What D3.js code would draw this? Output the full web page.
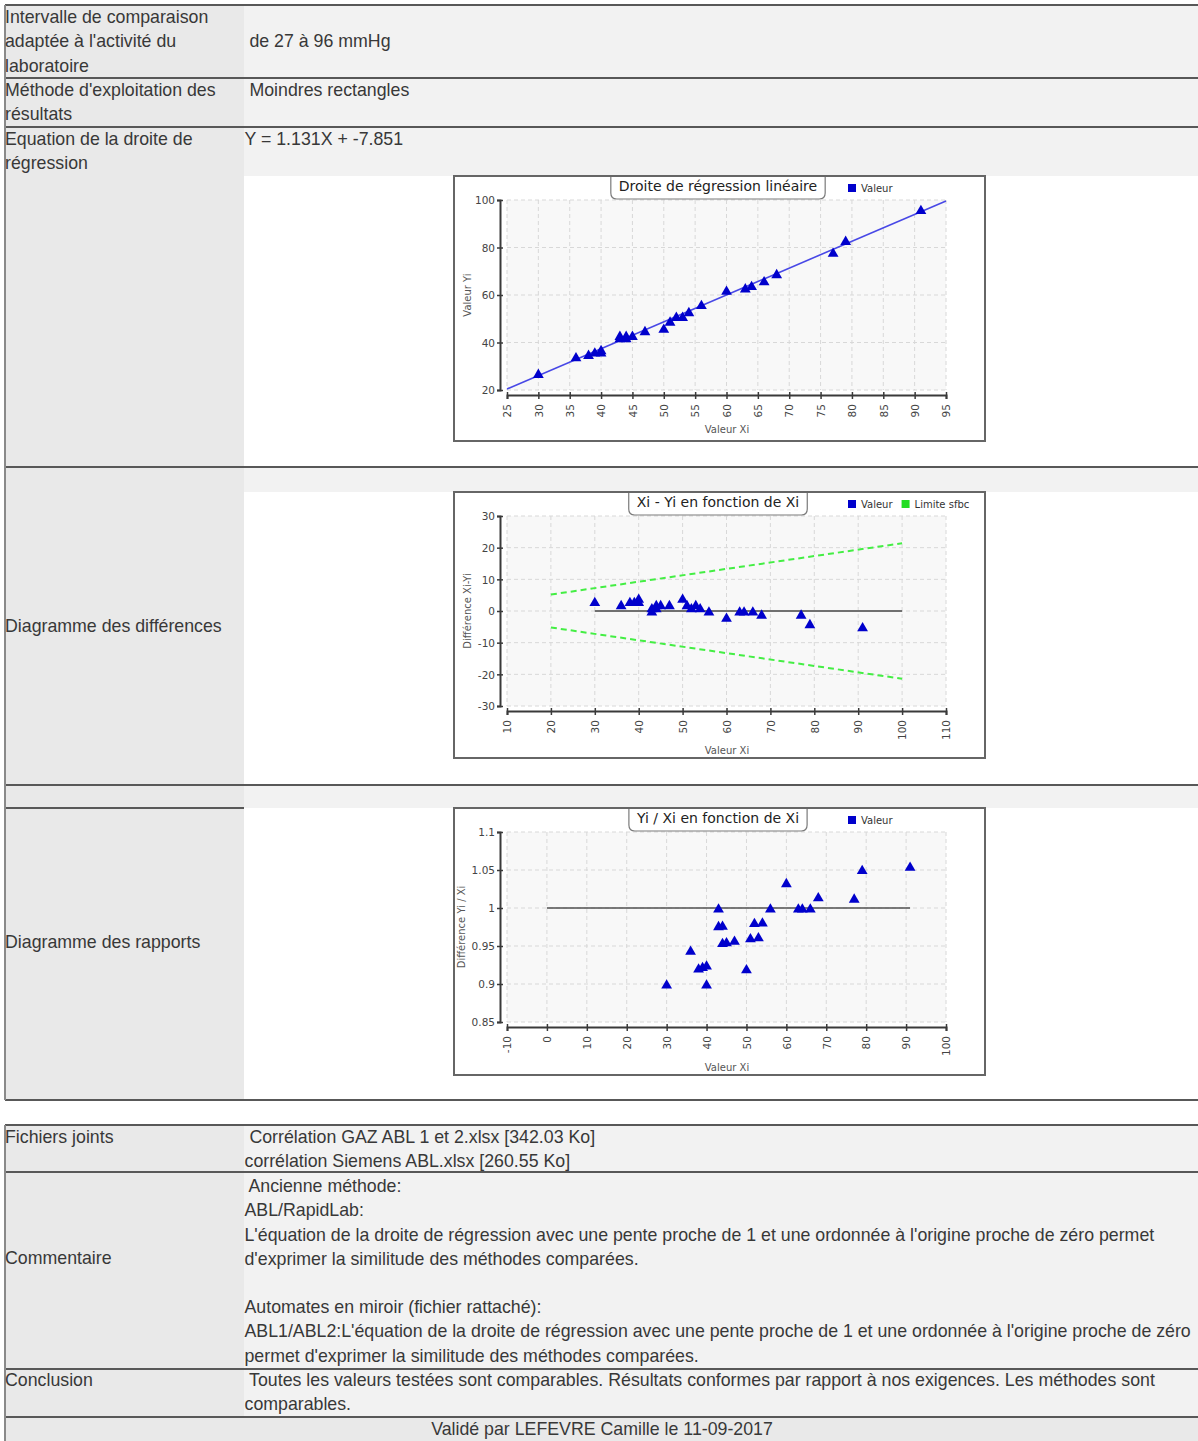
<!DOCTYPE html>
<html>
<head>
<meta charset="utf-8">
<script src="https://cdn.jsdelivr.net/npm/d3@7"></script>
<style>
  html, body { margin: 0; padding: 0; background: #fff; }
  svg { display: block; }
  text { white-space: pre; }
</style>
</head>
<body>
<svg id="page" width="1198" height="1441"></svg>
<script>
// Paired measurements (mmHg): Xi = reference analyser, Yi = compared analyser
const xi = [30, 36, 38, 39, 40, 40, 43, 43, 44, 44, 45, 47, 50, 51, 52, 53, 54, 56, 60, 63, 64, 66, 68, 77, 79, 91];
const yi = [27, 34, 35, 36, 37, 36, 43, 42, 43, 42, 43, 45, 46, 49, 51, 51, 53, 56, 62, 63, 64, 66, 69, 78, 83, 96];

// Regression line (least rectangles)
const slope = 1.131;
const intercept = -7.851;

// SFBC acceptance limits on Xi - Yi
const limitX = [20, 100];
const limitUpper = [5.2, 21.4];
const limitLower = [-5.2, -21.4];

// Reference lines
const zeroLineX = [30, 100];
const unityLineX = [0, 91];

// Axis ticks
const regXTicks = [25, 30, 35, 40, 45, 50, 55, 60, 65, 70, 75, 80, 85, 90, 95];
const regYTicks = [20, 40, 60, 80, 100];
const diffXTicks = [10, 20, 30, 40, 50, 60, 70, 80, 90, 100, 110];
const diffYTicks = [-30, -20, -10, 0, 10, 20, 30];
const ratioXTicks = [-10, 0, 10, 20, 30, 40, 50, 60, 70, 80, 90, 100];
const ratioYTicks = [0.85, 0.9, 0.95, 1, 1.05, 1.1];
const ratioYLabels = ["0.85", "0.9", "0.95", "1", "1.05", "1.1"];

// Report table texts
const leftCells = [
  ["Intervalle de comparaison", "adaptée à l'activité du", "laboratoire"],
  ["Méthode d'exploitation des", "résultats"],
  ["Equation de la droite de", "régression"],
  ["Diagramme des différences"],
  ["Diagramme des rapports"],
  ["Fichiers joints"],
  ["Commentaire"],
  ["Conclusion"]
];
const rightCells = [
  [" de 27 à 96 mmHg"],
  [" Moindres rectangles"],
  [`Y = ${slope}X + ${intercept}`],
  [" Corrélation GAZ ABL 1 et 2.xlsx [342.03 Ko]", "corrélation Siemens ABL.xlsx [260.55 Ko]"],
  [" Ancienne méthode:", "ABL/RapidLab:",
   "L'équation de la droite de régression avec une pente proche de 1 et une ordonnée à l'origine proche de zéro permet",
   "d'exprimer la similitude des méthodes comparées.", "",
   "Automates en miroir (fichier rattaché):",
   "ABL1/ABL2:L'équation de la droite de régression avec une pente proche de 1 et une ordonnée à l'origine proche de zéro",
   "permet d'exprimer la similitude des méthodes comparées."],
  [" Toutes les valeurs testées sont comparables. Résultats conformes par rapport à nos exigences. Les méthodes sont",
   "comparables."]
];
const footerText = "Validé par LEFEVRE Camille le 11-09-2017";

// ---------- layout ----------
const svg = d3.select("#page");
const W = 1198;
const colX = 244;
const tableFont = "'Liberation Sans', Arial, Helvetica, sans-serif";
const chartFont = "'DejaVu Sans', Verdana, sans-serif";
const leftColor = "#e9e9e9", rightColor = "#f2f2f2";
const lineStep = 24.2;

// backgrounds of the first table
svg.append("rect").attr("x", 5).attr("y", 5).attr("width", colX - 5).attr("height", 1095).attr("fill", leftColor);
svg.append("rect").attr("x", colX).attr("y", 5).attr("width", W - colX).attr("height", 1095).attr("fill", rightColor);
[[176, 467], [492, 785], [808, 1100]].forEach(([a, b]) => {
  svg.append("rect").attr("x", colX).attr("y", a).attr("width", W - colX).attr("height", b - a).attr("fill", "#fff");
});
// second table
svg.append("rect").attr("x", 5).attr("y", 1125).attr("width", colX - 5).attr("height", 292).attr("fill", leftColor);
svg.append("rect").attr("x", colX).attr("y", 1125).attr("width", W - colX).attr("height", 292).attr("fill", rightColor);
svg.append("rect").attr("x", 5).attr("y", 1417).attr("width", W - 5).attr("height", 24).attr("fill", "#e9e9e9");

// row separators
const hLines = [[5, W, 5], [5, W, 78], [5, W, 127], [5, W, 467], [5, W, 785], [5, colX, 808], [5, W, 1100],
                [5, W, 1125], [5, W, 1172], [5, W, 1369], [5, W, 1417]];
hLines.forEach(([a, b, y]) => {
  svg.append("line").attr("x1", a).attr("x2", b).attr("y1", y).attr("y2", y)
    .attr("stroke", "#585858").attr("stroke-width", 2);
});
[[5, 1100], [1125, 1441]].forEach(([a, b]) => {
  svg.append("line").attr("x1", 5).attr("x2", 5).attr("y1", a).attr("y2", b)
    .attr("stroke", "#8a8a8a").attr("stroke-width", 2);
});

function textBlock(lines, x, yFirst, anchor) {
  lines.forEach((s, i) => {
    svg.append("text").attr("x", x).attr("y", yFirst + i * lineStep).attr("dy", "0.35em")
      .attr("font-family", tableFont).attr("font-size", 17.75).attr("fill", "#383838")
      .attr("text-anchor", anchor || "start").text(s);
  });
}
const leftY = [17, 90, 139, 626, 942, 1137, 1258, 1380];
leftCells.forEach((c, i) => textBlock(c, 5, leftY[i]));
const rightY = [41, 90, 139, 1137, 1186, 1380];
rightCells.forEach((c, i) => textBlock(c, colX + 0.5, rightY[i]));
textBlock([footerText], 602, 1429, "middle");

// ---------- charts ----------
const blue = "#0000cc";
const tri = "M0,-4.8L5.4,4.5L-5.4,4.5Z";

function drawChart(cfg) {
  const y0 = cfg.top;
  const g = svg.append("g");
  const x = d3.scaleLinear().domain(cfg.xDomain).range([507, 946]);
  const y = d3.scaleLinear().domain(cfg.yDomain).range([y0 + 214, y0 + 24]);

  g.append("rect").attr("x", 454).attr("y", y0).attr("width", 531).attr("height", cfg.h).attr("fill", "#fff");
  g.append("rect").attr("x", 507).attr("y", y0 + 24).attr("width", 439).attr("height", 190).attr("fill", "#f8f8f8");

  // dashed grid
  g.selectAll(null).data(cfg.xTicks).join("line")
    .attr("x1", d => x(d)).attr("x2", d => x(d)).attr("y1", y0 + 24).attr("y2", y0 + 214)
    .attr("stroke", "#d8d8d8").attr("stroke-dasharray", "4,3");
  g.selectAll(null).data(cfg.yTicks).join("line")
    .attr("x1", 507).attr("x2", 946).attr("y1", d => y(d)).attr("y2", d => y(d))
    .attr("stroke", "#d8d8d8").attr("stroke-dasharray", "4,3");

  // axes (plain hyphen for negative labels)
  const xa = g.append("g").attr("transform", `translate(0,${y0 + 219})`)
    .call(d3.axisBottom(x).tickValues(cfg.xTicks).tickSizeOuter(0).tickSize(4).tickFormat(d => String(d)));
  xa.select(".domain").attr("stroke", "#3a3a3a").attr("stroke-width", 2);
  xa.selectAll(".tick line").attr("y1", -3).attr("y2", 4).attr("stroke", "#3a3a3a").attr("stroke-width", 1.5);
  xa.selectAll(".tick text").attr("transform", "rotate(-90)").attr("text-anchor", "end")
    .attr("x", -9).attr("y", 0).attr("dy", "0.36em")
    .attr("font-family", chartFont).attr("font-size", 10.5).attr("fill", "#444");

  const ya = g.append("g").attr("transform", "translate(500,0)")
    .call(d3.axisLeft(y).tickValues(cfg.yTicks).tickSizeOuter(0).tickSize(3)
      .tickFormat((d, i) => cfg.yLabels ? cfg.yLabels[i] : String(d)));
  ya.select(".domain").attr("stroke", "#3a3a3a").attr("stroke-width", 2);
  ya.selectAll(".tick line").attr("x1", 3).attr("x2", -3).attr("stroke", "#3a3a3a").attr("stroke-width", 1.5);
  ya.selectAll(".tick text").attr("x", -5).attr("dy", "0.36em")
    .attr("font-family", chartFont).attr("font-size", 10.5).attr("fill", "#444");
  g.selectAll(".domain").attr("fill", "none");

  // axis titles
  g.append("text").attr("x", 727).attr("y", y0 + cfg.xTitleDy).attr("dy", "0.35em").attr("text-anchor", "middle")
    .attr("font-family", chartFont).attr("font-size", 10).attr("fill", "#555").text("Valeur Xi");
  g.append("text").attr("transform", `translate(${cfg.yTitleX},${y0 + 119}) rotate(-90)`)
    .attr("dy", "0.35em").attr("text-anchor", "middle")
    .attr("font-family", chartFont).attr("font-size", 10).attr("fill", "#555").text(cfg.yTitle);

  cfg.draw(g, x, y);

  // data points
  g.selectAll(null).data(cfg.points).join("path")
    .attr("d", tri).attr("fill", blue)
    .attr("transform", d => `translate(${x(d[0])},${y(d[1])})`);

  // title box: square top on the frame edge, rounded bottom corners
  const tt = g.append("text").attr("x", 718).attr("y", y0 + 10).attr("dy", "0.36em").attr("text-anchor", "middle")
    .attr("font-family", chartFont).attr("font-size", 14).attr("fill", "#222").text(cfg.title);
  const tw = tt.node().getComputedTextLength();
  const bx0 = 718 - tw / 2 - 8, bx1 = 718 + tw / 2 + 8, by1 = y0 + 23, r = 6;
  const box = d3.path();
  box.moveTo(bx0, y0);
  box.lineTo(bx0, by1 - r);
  box.quadraticCurveTo(bx0, by1, bx0 + r, by1);
  box.lineTo(bx1 - r, by1);
  box.quadraticCurveTo(bx1, by1, bx1, by1 - r);
  box.lineTo(bx1, y0);
  g.insert("path", function () { return tt.node(); })
    .attr("d", box.toString()).attr("fill", "#fff").attr("stroke", "#7a7a7a").attr("stroke-width", 1.2);

  // legend
  let lx = 848;
  cfg.legend.forEach(([label, color]) => {
    g.append("rect").attr("x", lx).attr("y", y0 + 8).attr("width", 8).attr("height", 8).attr("fill", color);
    const t = g.append("text").attr("x", lx + 13).attr("y", y0 + 12).attr("dy", "0.35em")
      .attr("font-family", chartFont).attr("font-size", 10).attr("fill", "#333").text(label);
    lx += 13 + t.node().getComputedTextLength() + 9;
  });

  // frame
  g.append("rect").attr("x", 454).attr("y", y0).attr("width", 531).attr("height", cfg.h)
    .attr("fill", "none").attr("stroke", "#666").attr("stroke-width", 2);
}

const line = (x, y) => d3.line().x(d => x(d[0])).y(d => y(d[1]));

// 1. Linear regression Yi vs Xi
drawChart({
  top: 176, h: 265, xTitleDy: 253,
  xDomain: [25, 95], yDomain: [20, 100],
  xTicks: regXTicks, yTicks: regYTicks,
  title: "Droite de régression linéaire",
  yTitle: "Valeur Yi", yTitleX: 467,
  legend: [["Valeur", blue]],
  points: xi.map((v, i) => [v, yi[i]]),
  draw: (g, x, y) => {
    const ends = x.domain().map(v => [v, slope * v + intercept]);
    g.append("path").attr("d", line(x, y)(ends)).attr("fill", "none")
      .attr("stroke", "#4848e6").attr("stroke-width", 1.6);
  }
});

// 2. Differences Xi - Yi vs Xi
drawChart({
  top: 492, h: 266, xTitleDy: 258,
  xDomain: [10, 110], yDomain: [-30, 30],
  xTicks: diffXTicks, yTicks: diffYTicks,
  title: "Xi - Yi en fonction de Xi",
  yTitle: "Différence Xi-Yi", yTitleX: 467,
  legend: [["Valeur", blue], ["Limite sfbc", "#22dd22"]],
  points: xi.map((v, i) => [v, v - yi[i]]),
  draw: (g, x, y) => {
    g.append("path").attr("d", line(x, y)(zeroLineX.map(v => [v, 0]))).attr("fill", "none")
      .attr("stroke", "#707070").attr("stroke-width", 2);
    [limitUpper, limitLower].forEach(lim => {
      g.append("path").attr("d", line(x, y)(limitX.map((v, i) => [v, lim[i]]))).attr("fill", "none")
        .attr("stroke", "#44ee44").attr("stroke-width", 2).attr("stroke-dasharray", "6,4");
    });
  }
});

// 3. Ratios Yi / Xi vs Xi
drawChart({
  top: 808, h: 267, xTitleDy: 259,
  xDomain: [-10, 100], yDomain: [0.85, 1.1],
  xTicks: ratioXTicks, yTicks: ratioYTicks, yLabels: ratioYLabels,
  title: "Yi / Xi en fonction de Xi",
  yTitle: "Différence Yi / Xi", yTitleX: 461,
  legend: [["Valeur", blue]],
  points: xi.map((v, i) => [v, yi[i] / v]),
  draw: (g, x, y) => {
    g.append("path").attr("d", line(x, y)(unityLineX.map(v => [v, 1]))).attr("fill", "none")
      .attr("stroke", "#505050").attr("stroke-width", 1.6);
  }
});
</script>
</body>
</html>
